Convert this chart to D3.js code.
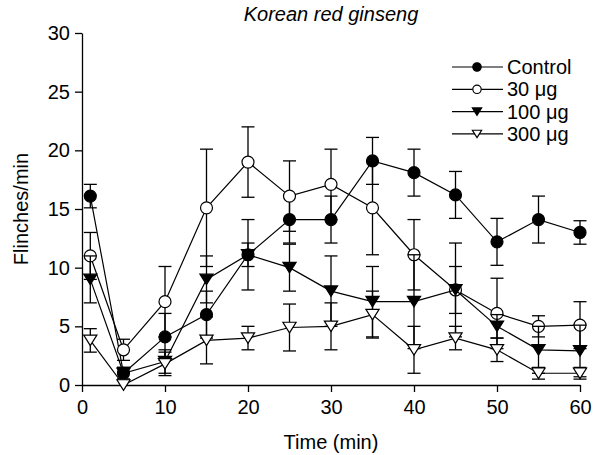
<!DOCTYPE html>
<html>
<head>
<meta charset="utf-8">
<script src="https://cdn.jsdelivr.net/npm/d3@7"></script>
<style>
  body { margin: 0; background: #fff; }
  text { font-family: "Liberation Sans", Arial, sans-serif; fill: #000; }
</style>
</head>
<body>
<svg width="594" height="455"></svg>
<script>
/* Flinches per minute over time, four treatment groups, mean with error bars */

const times = [1, 5, 10, 15, 20, 25, 30, 35, 40, 45, 50, 55, 60];

const control    = [16.1, 1, 4.1, 6, 11.1, 14.1, 14.1, 19.1, 18.1, 16.2, 12.2, 14.1, 13];
const controlErr = [1, 0.5, 2, 2, 3, 2, 2, 2, 2, 2, 2, 2, 1];
const dose30     = [11, 3, 7.1, 15.1, 19, 16.1, 17.1, 15.1, 11.1, 8.1, 6.1, 5, 5.1];
const dose30Err  = [2, 0.9, 3, 5, 3, 3, 3, 4, 3, 4, 3, 0.9, 2];
const dose100    = [9, 1, 2, 9, 11.1, 10, 8, 7.1, 7.1, 8.1, 5, 3, 2.9];
const dose100Err = [2, 0.5, 1, 2, 1, 2, 3, 3, 4, 2, 1, 2, 2.2];
const dose300    = [3.8, 0, 1.8, 3.8, 4, 4.9, 5, 6, 3, 4, 3, 1, 1];
const dose300Err = [1, 0, 1, 2, 1, 2, 2, 2, 2, 1, 1, 0.5, 0.5];

const seriesNames = ['Control', '30 \u03bcg', '100 \u03bcg', '300 \u03bcg'];
const xTicks = [0, 10, 20, 30, 40, 50, 60];
const yTicks = [0, 5, 10, 15, 20, 25, 30];

const series = [
    {name: seriesNames[0], values: control, err: controlErr, shape: 'circle', fill: '#000'},
    {name: seriesNames[1], values: dose30, err: dose30Err, shape: 'circle', fill: '#fff'},
    {name: seriesNames[2], values: dose100, err: dose100Err, shape: 'triangle', fill: '#000'},
    {name: seriesNames[3], values: dose300, err: dose300Err, shape: 'triangle', fill: '#fff'}
];

const FONT = '20px';
const svg = d3.select('svg');
const x = d3.scaleLinear().domain([0, 60]).range([82, 580]);
const y = d3.scaleLinear().domain([0, 30]).range([385, 33]);

// axes
const xAxis = svg.append('g')
    .attr('transform', `translate(0,${y(0)})`)
    .call(d3.axisBottom(x).tickValues(xTicks).tickSize(7).tickPadding(8).tickSizeOuter(0));
const yAxis = svg.append('g')
    .attr('transform', `translate(${x(0)},0)`)
    .call(d3.axisLeft(y).tickValues(yTicks).tickSize(7).tickPadding(5).tickSizeOuter(0));
for (let ax of [xAxis, yAxis]) {
    ax.select('.domain').attr('stroke', '#000').attr('stroke-width', 1.3);
    ax.selectAll('.tick line').attr('stroke', '#000').attr('stroke-width', 1.3);
    ax.selectAll('.tick text')
        .style('font-family', '"Liberation Sans", Arial, sans-serif')
        .style('font-size', FONT)
        .attr('fill', '#000');
}

svg.append('text')
    .attr('x', 331).attr('y', 449)
    .attr('text-anchor', 'middle')
    .style('font-size', FONT)
    .text('Time (min)');
svg.append('text')
    .attr('transform', 'translate(28,209) rotate(-90)')
    .attr('text-anchor', 'middle')
    .style('font-size', FONT)
    .text('Flinches/min');
svg.append('text')
    .attr('x', 331).attr('y', 21)
    .attr('text-anchor', 'middle')
    .style('font-size', FONT)
    .style('font-style', 'italic')
    .text('Korean red ginseng');

function drawMarker(g, shape, fill, cx, cy, size) {
    if (shape === 'circle') {
        g.append('circle')
            .attr('cx', cx).attr('cy', cy).attr('r', size)
            .attr('fill', fill).attr('stroke', '#000').attr('stroke-width', 1.2);
    } else {
        let h = size * 1.75, w = size * 1.1;
        g.append('path')
            .attr('d', `M${cx - w},${cy - h / 2}L${cx + w},${cy - h / 2}L${cx},${cy + h / 2}Z`)
            .attr('fill', fill).attr('stroke', '#000').attr('stroke-width', 1.2);
    }
}

const line = d3.line().x((d) => x(d[0])).y((d) => y(d[1]));
const CAP = 6.5;

for (let s of series) {
    let g = svg.append('g');
    let pts = times.map((t, i) => [t, s.values[i]]);
    g.append('path')
        .attr('d', line(pts))
        .attr('fill', 'none')
        .attr('stroke', '#000')
        .attr('stroke-width', 1.2);
    times.forEach((t, i) => {
        if (!s.err[i]) return;
        let cx = x(t), hi = y(s.values[i] + s.err[i]), lo = y(Math.max(0, s.values[i] - s.err[i]));
        g.append('line').attr('x1', cx).attr('x2', cx).attr('y1', hi).attr('y2', lo)
            .attr('stroke', '#000').attr('stroke-width', 1.3);
        for (let yy of [hi, lo]) {
            g.append('line').attr('x1', cx - CAP).attr('x2', cx + CAP).attr('y1', yy).attr('y2', yy)
                .attr('stroke', '#000').attr('stroke-width', 1.3);
        }
    });
    pts.forEach((p) => drawMarker(g, s.shape, s.fill, x(p[0]), y(p[1]), 6));
}

// legend
const legend = svg.append('g');
series.forEach((s, i) => {
    let ly = 67 + i * 22.3;
    legend.append('line').attr('x1', 452).attr('x2', 503).attr('y1', ly).attr('y2', ly)
        .attr('stroke', '#000').attr('stroke-width', 1.2);
    drawMarker(legend, s.shape, s.fill, 477, ly, 4.2);
    legend.append('text')
        .attr('x', 507).attr('y', ly + 7)
        .style('font-size', FONT)
        .text(s.name);
});
</script>
</body>
</html>
